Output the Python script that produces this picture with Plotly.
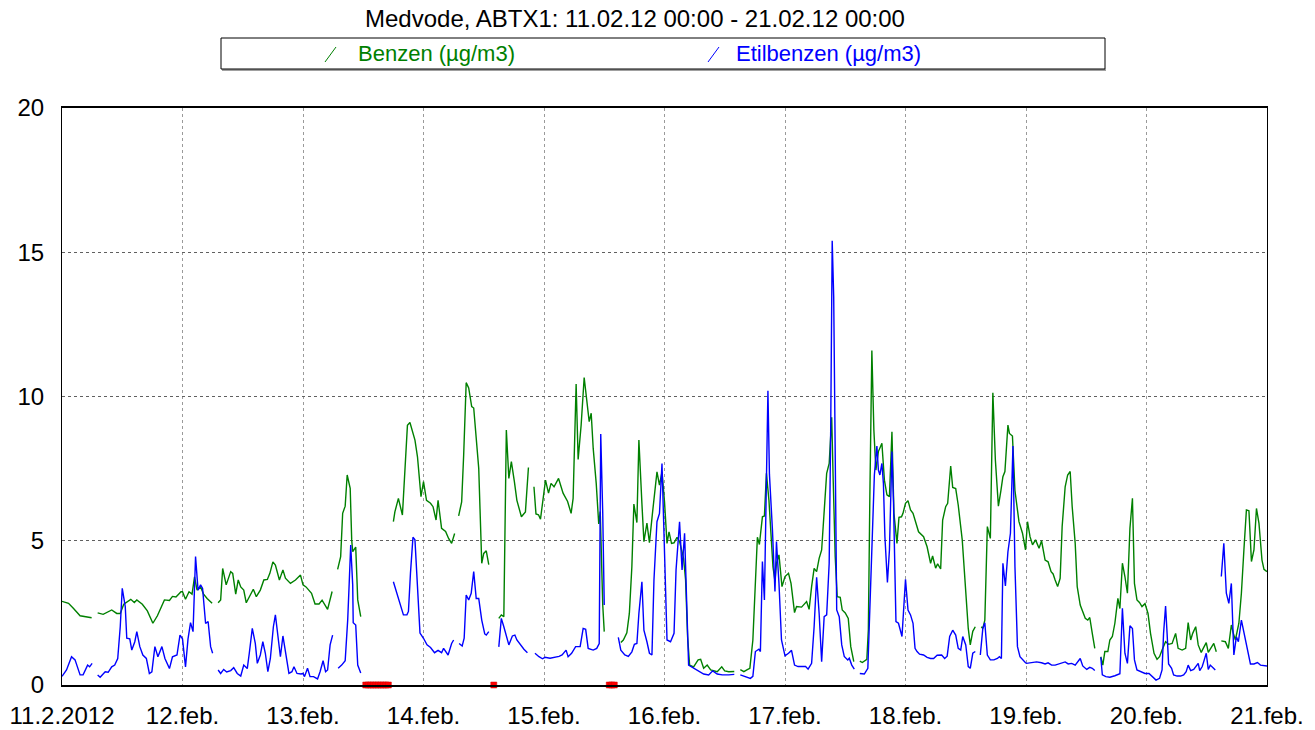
import plotly.graph_objects as go
from datetime import datetime, timedelta

START = datetime(2012, 2, 11)

# (hour of day, value) per day, None = missing data
benzen = [
    # 11.feb
    [(0, 2.9), (1.3, 2.83), (2.3, 2.65), (3.6, 2.4), (5.9, 2.33), (6.5, None), (7.1, 2.5), (8.2, 2.45),
     (9.9, 2.6), (10.9, 2.48), (11.6, 2.48), (12.3, 2.8), (13.7, 2.97), (14.4, 2.86), (14.9, 2.95), (16, 2.8),
     (17, 2.57), (18.1, 2.14), (19, 2.4), (20.4, 2.95), (21.4, 2.93), (22, 3.07), (22.7, 3.05), (23.7, 3.23)],
    # 12.feb
    [(0, 3.23), (0.6, 2.97), (1.3, 3.23), (1.9, 3.15), (2.4, 3.75), (2.9, 3.29), (3.6, 3.4), (4.2, 3.15),
     (4.9, 3.0), (5.9, 2.83), (6.5, None), (7.1, 2.85), (7.6, 2.95), (8.0, 4.04), (8.7, 3.47), (9.6, 3.93),
     (10, 3.87), (10.6, 3.15), (11.1, 3.64), (11.6, 3.4), (12.2, 3.29), (12.7, 2.85), (13.3, 3.06), (14.1, 3.32),
     (14.7, 3.06), (15.5, 3.29), (16.2, 3.64), (16.9, 3.66), (17.4, 3.87), (18, 4.27), (18.5, 4.16), (19.3, 3.64),
     (20, 3.99), (20.5, 3.7), (21.5, 3.52), (22.5, 3.64), (23.5, 3.81)],
    # 13.feb
    [(0, 3.47), (0.6, 3.4), (1.7, 3.18), (2.4, 2.81), (3.2, 2.81), (3.8, 2.94), (4.9, 2.62), (5.8, 3.24),
     (6.4, None), (6.9, 4.01), (7.5, 4.45), (7.9, 5.95), (8.4, 6.2), (8.8, 7.28), (9.4, 6.82), (9.7, 5.03),
     (9.9, 4.62), (10.2, 4.7), (10.5, 4.78), (10.9, 2.95), (11.5, 2.37), (12, None), (18, 5.66), (18.3, 6.0),
     (19, 6.47), (19.8, 5.89), (20.8, 9.0), (21.3, 9.1), (22.3, 8.49), (22.8, 7.91), (23.5, 6.53)],
    # 14.feb
    [(0, 7.05), (0.6, 6.4), (1.4, 6.3), (1.9, 6.18), (2.5, 5.72), (2.9, 6.4), (3.6, 5.43), (4.4, 5.32),
     (5.0, 5.08), (5.6, 4.91), (6.2, 5.25), (6.6, None), (7.0, 5.86), (7.6, 6.35), (8.0, 7.97), (8.5, 10.48),
     (9, 10.3), (9.6, 9.65), (10, 9.6), (10.6, 8.26), (11, 7.51), (11.6, 4.22), (12, 4.56), (12.5, 4.65),
     (13, 4.17), (13.5, None), (15, 2.31), (15.5, 2.43), (16, 2.37), (16.5, 8.84), (17, 7.16), (17.5, 7.74),
     (18.1, 7.05), (18.6, 6.4), (19.5, 5.83), (20.3, 6.0), (20.9, 7.54), (21.5, None), (22, 6.87), (22.4, 5.93),
     (22.9, 5.9), (23.3, 5.75)],
    # 15.feb
    [(0.3, 7.1), (0.9, 6.65), (1.4, 6.99), (2.0, 6.87), (2.9, 7.16), (3.8, 6.65), (4.7, 6.36), (5.4, 5.95),
     (5.8, 6.47), (6.4, 10.43), (6.8, 7.82), (7.4, 9.01), (8.0, 10.66), (8.5, 9.99), (9.0, 9.13), (9.4, 9.42),
     (9.8, 8.2), (10.4, 6.99), (10.9, 5.58), (11.2, 6.01), (11.7, 2.77), (12.0, 1.85), (12.5, None),
     (15.3, 1.47), (15.8, 1.56), (16.5, 1.81), (17, 2.48), (17.5, 4.1), (17.9, 6.27), (18.5, 5.63), (18.9, 8.49),
     (19.5, 6.29), (19.9, 4.97), (20.5, 5.61), (21, 4.93), (21.6, 5.95), (22.5, 7.39), (23, 6.93), (23.5, 7.39)],
    # 16.feb
    [(0, 6.36), (0.5, 4.91), (0.9, 5.31), (1.4, 4.91), (1.9, 4.93), (2.5, 5.12), (3.0, 4.97), (3.5, 4.56),
     (3.8, 4.39), (4.2, 3.64), (4.6, 1.67), (5.0, 0.69), (5.8, 0.63), (6.7, 0.87), (7.2, 0.89), (7.8, 0.58),
     (8.5, 0.69), (9.2, 0.52), (9.8, 0.49), (10.5, 0.46), (11.4, 0.63), (12.0, 0.49), (12.8, 0.46), (13.9, 0.47),
     (14.5, None), (15.1, 0.53), (15.8, 0.46), (16.5, 0.53), (17.0, 0.58), (17.6, 1.56), (18.1, 3.64),
     (18.5, 5.12), (18.9, 4.87), (19.5, 5.83), (19.9, 5.86), (20.3, 7.34), (20.8, 6.41), (21.3, 4.91),
     (21.6, 4.1), (22.0, 3.6), (22.3, 4.22), (22.8, 4.51), (23.4, 3.41)],
    # 17.feb
    [(0, 3.76), (0.7, 3.87), (1.2, 3.52), (1.9, 2.51), (2.3, 2.72), (3.3, 2.7), (4.3, 2.89), (4.8, 2.62),
     (5.3, 3.41), (5.8, 4.04), (6.3, 3.93), (6.8, 4.39), (7.3, 4.68), (7.8, 6.18), (8.3, 7.34), (8.8, 7.68),
     (9.3, 9.28), (9.6, 7.1), (10.0, 4.45), (10.4, 3.06), (11.0, 3.04), (11.4, 2.6), (12.0, 2.5), (12.6, 2.31),
     (13.1, 1.33), (13.7, 0.81), (14.3, None), (14.9, 0.83), (15.4, 0.78), (16.3, 0.89), (16.6, 1.91),
     (16.9, 6.53), (17.3, 11.59), (17.7, 8.84), (18.1, 7.45), (18.6, 8.09), (19.3, 8.38), (19.8, 7.1),
     (20.3, 6.59), (20.8, 6.53), (21.3, 8.78), (21.7, 5.95), (22.3, 4.91), (22.7, 5.81), (23.2, 5.83),
     (23.5, 5.95)],
    # 18.feb
    [(0, 6.3), (0.5, 6.39), (1, 6.07), (1.5, 5.95), (2, 5.66), (2.6, 5.31), (3.6, 5.14), (4.3, 4.79), (5, 4.22),
     (5.4, 4.47), (6, 4.05), (6.4, 4.2), (7, 4.02), (7.4, 5.72), (8, 6.18), (8.4, 6.3), (9, 7.59), (9.4, 6.85),
     (10, 6.81), (10.5, 6.24), (11.3, 5.03), (12, 3.18), (12.5, 1.96), (12.9, 1.39), (13.4, 1.86), (13.9, 2.02),
     (14.5, None), (15.1, 2.02), (15.4, 1.96), (15.8, 2.25), (16.3, 5.49), (16.9, 5.08), (17.4, 10.13),
     (17.9, 7.8), (18.5, 6.2), (19, 6.74), (19.4, 7.22), (19.8, 7.4), (20.4, 9.01), (20.7, 8.72), (21.3, 8.63),
     (21.8, 6.74), (22.6, 5.66), (23.3, 5.26), (23.9, 4.68)],
    # 19.feb
    [(0.3, 5.66), (0.8, 5.14), (1.3, 4.86), (1.9, 5.03), (2.6, 4.74), (3.1, 5.0), (3.8, 4.33), (4.4, 4.27),
     (5.0, 3.93), (5.4, 3.85), (5.8, 3.64), (6.3, 3.41), (6.8, 3.7), (7.2, 5.49), (7.8, 6.87), (8.3, 7.28),
     (8.8, 7.4), (9.2, 6.18), (9.8, 4.91), (10.2, 3.41), (10.8, 2.77), (11.2, 2.6), (11.8, 2.31), (12.3, 2.25),
     (12.7, 2.34), (13.2, 1.79), (13.7, 1.27), (14.3, None), (14.9, 0.98), (15.3, 0.69), (15.7, 1.16),
     (16.3, 1.16), (16.7, 1.56), (17.2, 1.68), (17.7, 2.14), (18.3, 3.0), (18.7, 2.65), (19.2, 4.22),
     (19.7, 3.76), (20.2, 3.18), (20.7, 5.43), (21.2, 6.47), (21.6, 3.52), (22.1, 2.95), (22.6, 2.86),
     (23.1, 2.72), (23.7, 2.82)],
    # 20.feb
    [(0.3, 2.48), (0.8, 1.79), (1.5, 1.1), (2.1, 0.89), (2.6, 0.98), (3.1, 1.21), (3.8, 1.5), (4.4, 1.41),
     (5.1, 1.44), (5.8, 1.79), (6.3, 1.27), (7.1, 1.21), (7.8, 1.27), (8.3, 2.16), (8.8, 1.56), (9.2, 1.79),
     (9.8, 2.02), (10.3, 1.39), (10.9, 1.13), (11.3, 1.27), (11.9, 1.47), (12.3, 1.13), (12.8, 1.27),
     (13.4, 1.44), (13.9, 1.15), (14.4, None), (14.9, 1.53), (15.7, 1.5), (16.3, 1.27), (16.9, 2.08),
     (17.3, 1.79), (17.7, 1.56), (18.4, 2.14), (18.9, 3.18), (19.4, 4.68), (19.9, 6.07), (20.4, 6.04),
     (20.9, 4.28), (21.4, 4.68), (21.9, 6.12), (22.4, 5.6), (23.0, 4.33), (23.4, 4.01), (24, 3.93)],
]

etilbenzen = [
    # 11.feb
    [(0, 0.3), (0.9, 0.52), (1.9, 0.98), (2.6, 0.87), (3.6, 0.35), (4.2, 0.35), (5.1, 0.69), (5.5, 0.63),
     (6.0, 0.75), (6.5, None), (7.1, 0.35), (7.6, 0.27), (8.6, 0.46), (9.2, 0.44), (9.9, 0.63), (10.5, 0.69),
     (11.1, 0.92), (11.6, 2.02), (12.0, 3.35), (12.6, 2.72), (12.9, 1.62), (13.5, 1.6), (13.9, 1.21),
     (14.5, 1.5), (14.9, 1.85), (15.5, 1.33), (16.1, 1.04), (16.8, 0.92), (17.4, 0.4), (17.9, 0.46),
     (18.5, 1.33), (19.1, 0.98), (19.9, 1.33), (20.5, 0.92), (21.4, 0.57), (22, 0.98), (22.9, 1.04),
     (23.5, 1.73)],
    # 12.feb
    [(0, 1.6), (0.6, 0.63), (1.1, 1.6), (1.6, 2.16), (2.1, 1.85), (2.6, 4.45), (3.1, 3.29), (3.6, 3.47),
     (4.0, 3.35), (4.6, 2.13), (5.1, 2.2), (5.6, 1.33), (6.0, 1.1), (6.5, None), (7.1, 0.52), (7.6, 0.4),
     (8.2, 0.54), (8.8, 0.45), (9.6, 0.5), (10.2, 0.6), (10.9, 0.4), (11.6, 0.31), (12.2, 0.69), (12.9, 0.57),
     (13.3, 1.1), (13.9, 1.96), (14.5, 1.44), (14.9, 0.75), (15.5, 1.04), (16.0, 1.5), (16.5, 1.1), (17.0, 0.46),
     (17.5, 0.92), (18.1, 2.02), (18.5, 2.43), (19.1, 1.62), (19.5, 0.98), (20, 1.7), (20.5, 1.1), (21.2, 0.4),
     (21.8, 0.46), (22.2, 0.63), (22.8, 0.4), (23.6, 0.38)],
    # 13.feb
    [(0, 0.4), (0.3, 0.29), (0.9, 0.58), (1.4, 0.29), (2.1, 0.29), (2.9, 0.21), (3.4, 0.46), (4.0, 0.84),
     (4.5, 0.46), (4.9, 0.52), (5.4, 1.39), (5.9, 1.73), (6.4, None), (7.0, 0.58), (7.7, 0.69), (8.4, 0.84),
     (8.9, 2.25), (9.2, 3.52), (9.5, 4.85), (9.9, 3.47), (10, 2.16), (10.5, 2.08), (10.9, 0.69), (11.5, 0.42),
     (12, None), (18, 3.58), (18.7, 3.18), (19.3, 2.83), (20, 2.43), (20.7, 2.43), (21, 2.55), (21.4, 3.87),
     (21.9, 5.12), (22.3, 5.03), (22.8, 3.2), (23.3, 1.8)],
    # 14.feb
    [(0, 1.62), (0.7, 1.39), (1.4, 1.3), (2.2, 1.12), (2.9, 1.2), (3.6, 1.12), (4.0, 1.27), (4.9, 1.04),
     (5.6, 1.44), (6.0, 1.56), (6.5, None), (7.1, 1.44), (7.7, 1.35), (8.1, 1.62), (8.5, 3.12), (9, 2.95),
     (9.5, 3.18), (10, 3.93), (10.5, 3.0), (11, 3.0), (11.6, 2.25), (12.2, 1.77), (12.5, 1.73), (13, 1.85),
     (13.5, None), (15, 1.32), (15.5, 2.31), (16, 2.02), (16.5, 1.68), (17, 1.39), (17.7, 1.7), (18.2, 1.73),
     (18.6, 1.56), (19.3, 1.39), (20, 1.24), (20.7, 1.12), (21.5, None), (22.2, 1.1), (23, 0.98), (23.7, 0.91)],
    # 15.feb
    [(0.2, 0.96), (1.2, 0.93), (2.2, 0.95), (3.0, 0.99), (3.6, 1.04), (4.4, 1.21), (4.8, 0.98), (5.5, 1.1),
     (6.3, 1.33), (7.2, 1.33), (7.8, 1.96), (8.3, 1.93), (8.8, 1.27), (9.8, 1.21), (10.5, 1.27), (11.0, 1.44),
     (11.3, 8.7), (11.7, 5.95), (12.0, 2.77), (12.5, None), (14.8, 1.65), (15.3, 1.21), (16.1, 1.04),
     (16.8, 0.99), (17.5, 1.15), (18.0, 1.41), (18.5, 1.44), (18.9, 2.48), (19.5, 3.58), (19.9, 1.9),
     (20.5, 1.5), (21, 1.1), (21.5, 1.04), (21.9, 3.64), (22.5, 5.66), (23, 5.95), (23.5, 7.68)],
    # 16.feb
    [(0, 5.0), (0.5, 1.56), (1.2, 1.5), (1.9, 1.79), (2.3, 3.99), (3.0, 5.66), (3.5, 3.99), (4.0, 5.26),
     (4.8, 0.69), (5.8, 0.58), (6.8, 0.46), (7.8, 0.38), (8.8, 0.35), (9.6, 0.49), (10.5, 0.38), (11.5, 0.35),
     (12.8, 0.35), (13.9, 0.37), (14.5, None), (15.1, 0.35), (16.1, 0.29), (17.1, 0.23), (17.6, 0.3),
     (18.1, 1.16), (18.8, 1.24), (19.1, 1.16), (19.5, 4.28), (19.9, 2.95), (20.6, 10.2), (20.9, 7.3),
     (21.5, 5.37), (22.0, 3.24), (22.3, 4.97), (22.8, 3.52), (23.3, 1.56)],
    # 17.feb
    [(0, 1.01), (0.7, 1.1), (1.3, 1.2), (1.9, 0.69), (2.6, 0.64), (4.1, 0.64), (4.6, 0.55), (5.3, 0.75),
     (5.8, 2.02), (6.3, 3.73), (6.8, 2.48), (7.3, 0.81), (7.8, 2.37), (8.3, 2.43), (8.8, 4.22), (9.1, 8.84),
     (9.4, 15.4), (9.7, 13.46), (10.0, 7.68), (10.3, 2.6), (10.8, 2.37), (11.3, 1.39), (11.8, 0.99),
     (12.5, 0.87), (12.8, 0.93), (13.3, 0.69), (13.8, 0.55), (14.3, None), (14.9, 0.4), (15.8, 0.38),
     (16.5, 0.58), (16.9, 2.48), (17.4, 4.8), (17.8, 7.28), (18.3, 8.28), (18.6, 7.45), (18.9, 7.28),
     (19.3, 7.68), (19.6, 6.99), (19.9, 5.14), (20.4, 3.55), (20.8, 4.68), (21.3, 8.09), (21.6, 6.41),
     (22.1, 2.2), (22.6, 2.14), (23.3, 1.68)],
    # 18.feb
    [(0, 3.66), (0.5, 2.6), (1, 2.43), (1.5, 2.14), (1.9, 1.27), (2.3, 1.16), (2.8, 1.07), (3.6, 1.04),
     (4.3, 0.96), (5, 0.92), (5.6, 0.92), (6.3, 1.03), (7.2, 1.04), (7.8, 0.92), (8.3, 1.0), (8.8, 1.68),
     (9.4, 1.9), (10, 1.73), (10.5, 1.27), (11, 1.21), (11.4, 1.68), (12, 1.39), (12.5, 0.64), (12.9, 0.58),
     (13.4, 1.1), (13.9, 1.16), (14.4, None), (14.9, 1.04), (15.4, 1.96), (15.8, 2.16), (16.3, 1.04),
     (16.9, 0.87), (17.6, 0.87), (18.3, 0.92), (18.7, 0.98), (19.1, 0.92), (19.4, 4.22), (19.9, 3.43),
     (20.4, 4.62), (20.9, 5.26), (21.4, 8.28), (21.8, 4.1), (22.3, 1.33), (22.8, 0.98), (23.3, 0.87),
     (23.9, 0.77)],
    # 19.feb
    [(0.1, 0.75), (1.1, 0.77), (2.1, 0.8), (3.1, 0.77), (3.8, 0.73), (4.4, 0.77), (5.1, 0.69), (5.8, 0.69),
     (6.8, 0.75), (7.8, 0.8), (8.4, 0.73), (9.1, 0.75), (9.8, 0.69), (10.3, 0.8), (10.8, 0.92), (11.3, 0.66),
     (12.1, 0.54), (12.7, 0.61), (13.2, 0.58), (13.7, 0.5), (14.3, None), (14.9, 0.96), (15.2, 0.35),
     (15.9, 0.29), (16.7, 0.27), (17.7, 0.32), (18.7, 0.39), (19.2, 2.66), (19.7, 1.1), (20.2, 0.75),
     (20.7, 2.05), (21.2, 1.96), (21.6, 0.87), (22.1, 0.52), (22.8, 0.46), (23.4, 0.43), (23.7, 0.4)],
    # 20.feb
    [(0.5, 0.4), (1.1, 0.29), (1.9, 0.17), (2.6, 0.23), (3.1, 0.52), (3.4, 1.79), (3.8, 2.74), (4.1, 1.79),
     (4.4, 0.73), (5.0, 0.58), (5.4, 0.35), (6.1, 0.31), (6.8, 0.31), (7.4, 0.35), (7.9, 0.46), (8.3, 0.69),
     (8.8, 0.5), (9.4, 0.54), (9.9, 0.66), (10.3, 0.75), (10.6, 0.5), (11.1, 0.64), (11.4, 0.81), (11.9, 1.1),
     (12.3, 0.54), (12.7, 0.69), (13.2, 0.61), (13.7, 0.52), (14.3, None), (14.9, 3.76), (15.4, 4.91),
     (15.9, 3.18), (16.4, 2.83), (16.9, 3.52), (17.4, 1.04), (17.9, 1.67), (18.3, 1.5), (18.9, 2.25),
     (19.4, 1.79), (20.1, 1.21), (20.7, 0.73), (21.4, 0.73), (22.1, 0.78), (22.7, 0.69), (23.7, 0.66),
     (24, 0.66)],
]

# hours (from 11.02 00:00) flagged with red markers on the time axis
flag_hours = [60.5, 61, 61.5, 62, 62.5, 63, 63.5, 64, 64.5, 65, 86, 109, 109.5, 110]

day_labels = ['11.2.2012', '12.feb.', '13.feb.', '14.feb.', '15.feb.', '16.feb.',
              '17.feb.', '18.feb.', '19.feb.', '20.feb.', '21.feb.']

GREEN = '#008000'
BLUE = '#0000ff'
FONT = 'Liberation Sans, Arial, sans-serif'

# plot area in pixels
L, R, T, B = 62, 1267, 108, 685


def px(x):
    return (x - L) / (R - L)


def py(y):
    return (B - y) / (B - T)


def to_xy(days):
    xs, ys = [], []
    for d, pts in enumerate(days):
        for h, v in pts:
            xs.append(START + timedelta(hours=24 * d + h))
            ys.append(v)
    return xs, ys


fig = go.Figure()

bx, by = to_xy(benzen)
fig.add_trace(go.Scatter(x=bx, y=by, mode='lines', name='Benzen (µg/m3)',
                         line=dict(color=GREEN, width=1.4)))
ex, ey = to_xy(etilbenzen)
fig.add_trace(go.Scatter(x=ex, y=ey, mode='lines', name='Etilbenzen (µg/m3)',
                         line=dict(color=BLUE, width=1.4)))
fig.add_trace(go.Scatter(x=[START + timedelta(hours=h) for h in flag_hours],
                         y=[0] * len(flag_hours), mode='markers', cliponaxis=False,
                         marker=dict(symbol='square', size=6, color='#ff0000',
                                     line=dict(color='#d00000', width=0.5))))

fig.update_layout(
    width=1315, height=730,
    margin=dict(l=L, r=1315 - R, t=T, b=730 - B),
    paper_bgcolor='white', plot_bgcolor='white',
    showlegend=False,
    font=dict(family=FONT, color='black'),
)

fig.update_xaxes(
    type='date',
    range=[START, START + timedelta(days=10)],
    tickvals=[START + timedelta(days=i) for i in range(11)],
    ticktext=day_labels,
    tickfont=dict(size=24),
    ticklabelstandoff=8,
    automargin=False,
    showgrid=True, gridcolor='#9a9a9a', griddash='dot', gridwidth=1,
    showline=True, linecolor='black', linewidth=2, mirror=True,
    ticks='', zeroline=False,
)
fig.update_yaxes(
    range=[0, 20], tick0=0, dtick=5,
    tickfont=dict(size=24),
    ticklabelstandoff=12,
    automargin=False,
    showgrid=True, gridcolor='#606060', griddash='dot', gridwidth=1,
    showline=True, linecolor='black', linewidth=1, mirror=True,
    ticks='', zeroline=False,
)

# title
fig.add_annotation(text='Medvode, ABTX1: 11.02.12 00:00 - 21.02.12 00:00',
                   xref='paper', yref='paper', x=px(635), y=py(19),
                   xanchor='center', yanchor='middle',
                   showarrow=False, font=dict(size=24, family=FONT))

# legend box
fig.add_shape(type='line', xref='paper', yref='paper', x0=px(222), x1=px(1106), y0=py(70), y1=py(70),
              line=dict(color='#a0a0a0', width=2))
fig.add_shape(type='rect', xref='paper', yref='paper', x0=px(221), x1=px(1105), y0=py(69), y1=py(38),
              line=dict(color='black', width=1), fillcolor='white')
for (x0, x1, color, label, cx) in [(325, 336, GREEN, 'Benzen (µg/m3)', 436),
                                   (708, 719, BLUE, 'Etilbenzen (µg/m3)', 828)]:
    fig.add_shape(type='line', xref='paper', yref='paper', x0=px(x0), x1=px(x1), y0=py(62), y1=py(47),
                  line=dict(color=color, width=1))
    fig.add_annotation(text=label, xref='paper', yref='paper', x=px(cx), y=py(54),
                       xanchor='center', yanchor='middle',
                       showarrow=False, font=dict(size=22, color=color, family=FONT))

fig.write_html('out.html', config={'displayModeBar': False},
               post_script="document.body.style.margin='0';document.body.style.overflow='hidden';")
